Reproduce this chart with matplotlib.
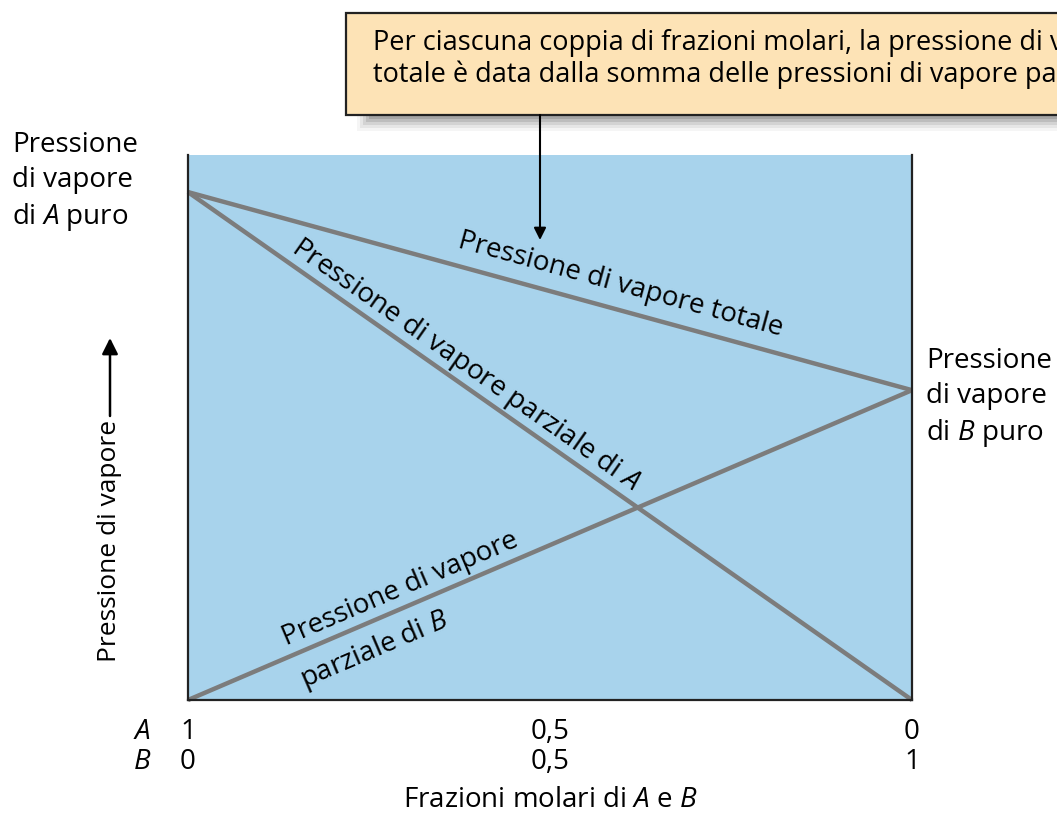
import matplotlib
matplotlib.use("Agg")
import numpy as np
import matplotlib.pyplot as plt
from matplotlib.patches import Rectangle, FancyArrowPatch

plt.rcParams['font.family'] = ['Open Sans', 'DejaVu Sans']
plt.rcParams['mathtext.fontset'] = 'custom'
plt.rcParams['mathtext.rm'] = 'Open Sans'
plt.rcParams['mathtext.it'] = 'Open Sans:italic'

# frazione molare di A (asse invertito: 1 a sinistra, 0 a destra)
x_A = [1.0, 0.0]
p_A_puro = 1.0
p_B_puro = 0.61
p_A = [p_A_puro * x for x in x_A]
p_B = [p_B_puro * (1 - x) for x in x_A]
p_tot = [a + b for a, b in zip(p_A, p_B)]
tick_pos = [1.0, 0.5, 0.0]
tick_A = ["1", "0,5", "0"]
tick_B = ["0", "0,5", "1"]

W, H = 1057, 814
fig = plt.figure(figsize=(W / 100, H / 100), dpi=100)
ax = fig.add_axes([188 / W, 1 - 700 / H, 724 / W, 545 / H])
ax.set_facecolor("#a8d3ec")
ax.set_xlim(1, 0)
ax.set_ylim(0, 1.073)
for s in ["left", "right", "bottom"]:
    ax.spines[s].set_linewidth(1.6)
    ax.spines[s].set_color("#222222")
ax.spines["top"].set_visible(False)
ax.set_xticks([])
ax.set_yticks([])

gray = "#7c7c7c"
for ys in (p_tot, p_A, p_B):
    ax.plot(x_A, ys, color=gray, lw=3.2, solid_capstyle="butt", clip_on=False)


def px(x, y):
    return x / W, 1 - y / H


def angle(xs, ys):
    p0 = ax.transData.transform((xs[0], ys[0]))
    p1 = ax.transData.transform((xs[1], ys[1]))
    return np.degrees(np.arctan2(p1[1] - p0[1], p1[0] - p0[0]))


def on_line(x, ys, txt, dy):
    # etichetta lungo la retta, spostata in verticale di dy pixel
    y = np.interp(x, x_A[::-1], ys[::-1])
    ax.annotate(txt, (x, y), xytext=(0, dy), textcoords="offset pixels",
                rotation=angle(x_A, ys), rotation_mode="anchor",
                ha="center", va="center", fontsize=fs)


fs = 20
on_line(0.403, p_tot, "Pressione di vapore totale", 26)
on_line(0.617, p_A, "Pressione di vapore parziale di $\\it{A}$", 22)
on_line(0.707, p_B, "Pressione di vapore", 20)
on_line(0.742, p_B, "parziale di $\\it{B}$", -30)

# etichette asse x
for p, a, b in zip(tick_pos, tick_A, tick_B):
    ax.text(p, -0.058, a, ha="center", va="center", fontsize=fs, transform=ax.get_xaxis_transform())
    ax.text(p, -0.113, b, ha="center", va="center", fontsize=fs, transform=ax.get_xaxis_transform())
fig.text(*px(142, 732), "$\\it{A}$", ha="center", va="center", fontsize=fs)
fig.text(*px(142, 762), "$\\it{B}$", ha="center", va="center", fontsize=fs)
fig.text(*px(550, 800), "Frazioni molari di $\\it{A}$ e $\\it{B}$", ha="center", va="center", fontsize=fs)

# asse y
fig.text(*px(110, 541), "Pressione di vapore", rotation=90, ha="center", va="center", fontsize=19)
fig.patches.append(FancyArrowPatch(
    px(110, 416), px(110, 338), transform=fig.transFigure, arrowstyle="-|>",
    mutation_scale=24, lw=1.8, color="black", shrinkA=0, shrinkB=0))

fig.text(*px(12, 182), "Pressione\ndi vapore\ndi $\\it{A}$ puro", ha="left", va="center",
         fontsize=fs, linespacing=1.3)
fig.text(*px(926, 398), "Pressione\ndi vapore\ndi $\\it{B}$ puro", ha="left", va="center",
         fontsize=fs, linespacing=1.3)

# riquadro con ombra (il testo esce dal bordo destro come nell'originale)
for i, a in enumerate([0.04, 0.06, 0.08, 0.10, 0.12]):
    d = 3 * (5 - i)
    fig.patches.append(Rectangle(px(372 - d, 116 + d), (W - 372 + d) / W, (d + 2) / H,
                                 transform=fig.transFigure, facecolor="black", alpha=a, lw=0))
fig.patches.append(Rectangle(px(346, 115), (W - 346 + 20) / W, 102 / H, transform=fig.transFigure,
                             facecolor="#fde3b6", edgecolor="#222222", lw=1.6, clip_on=False))
fig.text(*px(373, 59), "Per ciascuna coppia di frazioni molari, la pressione di vapore\n"
         "totale è data dalla somma delle pressioni di vapore parziali",
         ha="left", va="center", fontsize=19.5, linespacing=1.12)
fig.patches.append(FancyArrowPatch(
    px(540, 115), px(540, 240), transform=fig.transFigure, arrowstyle="-|>",
    mutation_scale=18, lw=1.5, color="black", shrinkA=0, shrinkB=0))

fig.savefig("out.png", dpi=100)
